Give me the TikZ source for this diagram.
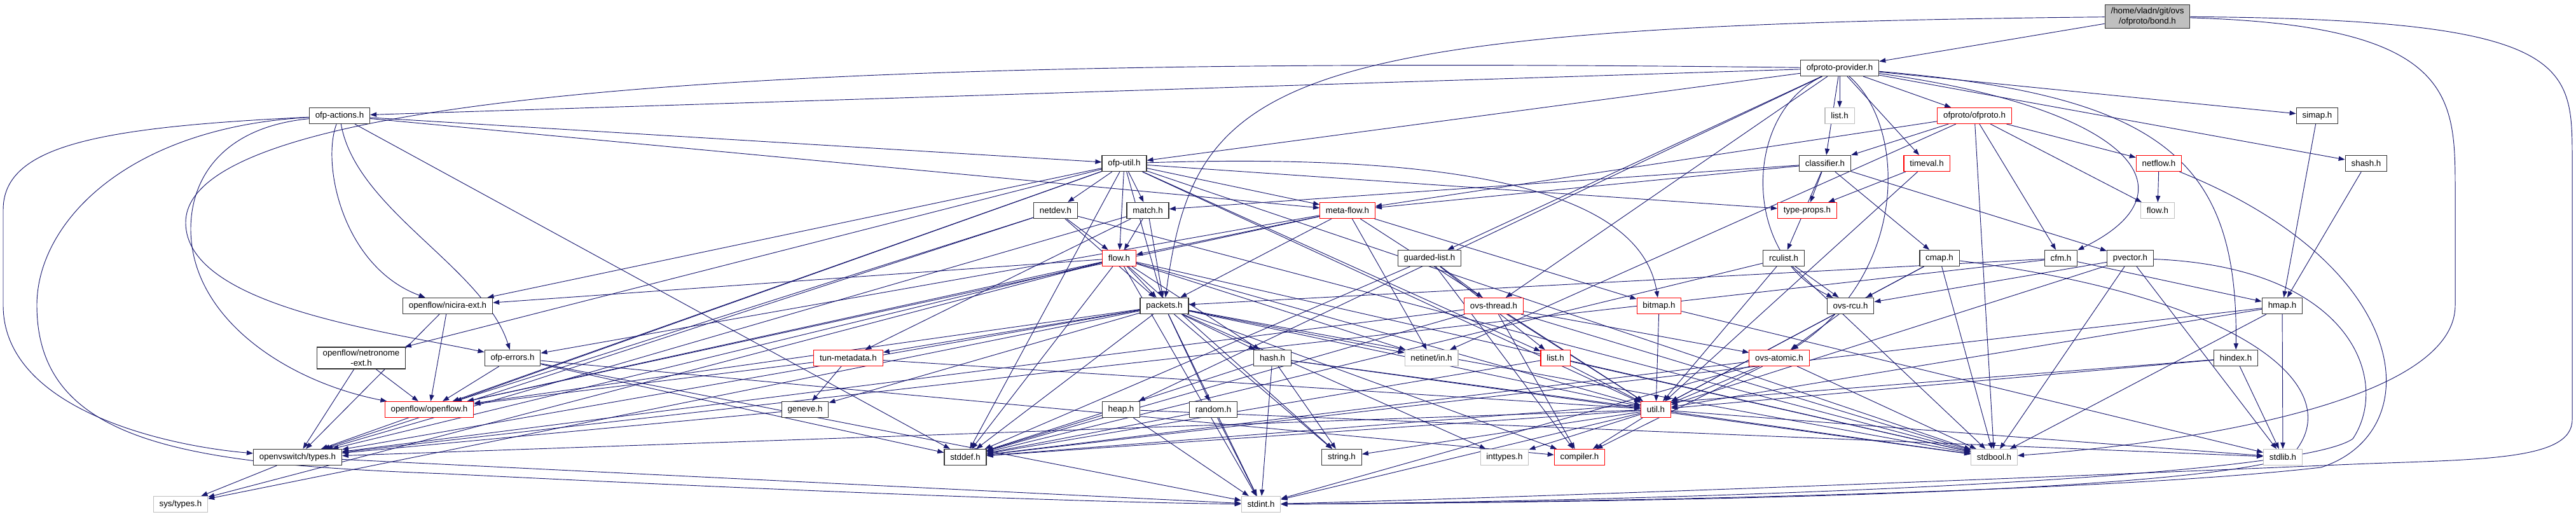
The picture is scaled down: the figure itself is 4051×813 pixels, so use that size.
\documentclass[tikz,border=0pt]{standalone}
\usepackage{fontspec}
\setmainfont{Liberation Sans}
\usetikzlibrary{arrows.meta,backgrounds}

\definecolor{edgeblue}{HTML}{191970}
\definecolor{rootfill}{HTML}{BFBFBF}
\definecolor{nodocline}{HTML}{BFBFBF}

\tikzset{
  hdr/.style={draw=black!80, line width=1pt, fill=white, font=\fontsize{10}{12}\selectfont,
    inner xsep=7pt, inner ysep=3pt, minimum height=18.75pt, align=center},
  trunc/.style={hdr, draw=red, line width=0.8pt},
  nodoc/.style={hdr, draw=nodocline, line width=0.8pt},
  root/.style={hdr, fill=rootfill},
  inc/.style={draw=edgeblue, line width=0.7pt, -{Triangle[length=7.5pt,width=5.5pt]}}
}

\begin{document}
\begin{tikzpicture}[x=0.75pt,y=-0.75pt]
\useasboundingbox (0,0) rectangle (4051,813);
% rows of headers
\node[root] (bond) at (3377,26) {/home/vladn/git/ovs\\/ofproto/bond.h};
\node[hdr] (provider) at (2893,107) {ofproto-provider.h};
\node[hdr] (ofpactions) at (534,182) {ofp-actions.h};
\node[nodoc] (listg) at (2893,182) {list.h};
\node[trunc] (ofproto) at (3105,182) {ofproto/ofproto.h};
\node[hdr] (simap) at (3644,182) {simap.h};
\node[hdr] (ofputil) at (1768,257) {ofp-util.h};
\node[hdr] (classifier) at (2870,257) {classifier.h};
\node[trunc] (timeval) at (3030,257) {timeval.h};
\node[trunc] (netflow) at (3395,257) {netflow.h};
\node[hdr] (shash) at (3721,257) {shash.h};
\node[hdr] (netdev) at (1660,331) {netdev.h};
\node[hdr] (match) at (1805,331) {match.h};
\node[trunc] (metaflow) at (2119,331) {meta-flow.h};
\node[trunc] (typeprops) at (2842,331) {type-props.h};
\node[nodoc] (flowg) at (3393,331) {flow.h};
\node[trunc] (flow) at (1760,406) {flow.h};
\node[hdr] (guarded) at (2248,406) {guarded-list.h};
\node[hdr] (rculist) at (2805,406) {rculist.h};
\node[hdr] (cmap) at (3050,406) {cmap.h};
\node[hdr] (cfm) at (3241,406) {cfm.h};
\node[hdr] (pvector) at (3350,406) {pvector.h};
\node[hdr] (nicira) at (704,481) {openflow/nicira-ext.h};
\node[hdr] (packets) at (1831,481) {packets.h};
\node[trunc] (ovsthread) at (2349,481) {ovs-thread.h};
\node[trunc] (bitmap) at (2609,481) {bitmap.h};
\node[hdr] (ovsrcu) at (2910,481) {ovs-rcu.h};
\node[hdr] (hmap) at (3589,481) {hmap.h};
\node[hdr] (netronome) at (568,563) {openflow/netronome\\-ext.h};
\node[hdr] (ofperrors) at (806,563) {ofp-errors.h};
\node[trunc] (tunmeta) at (1334,563) {tun-metadata.h};
\node[hdr] (hash) at (2001,563) {hash.h};
\node[nodoc] (netinet) at (2251,563) {netinet/in.h};
\node[trunc] (listr) at (2446,563) {list.h};
\node[trunc] (ovsatomic) at (2798,563) {ovs-atomic.h};
\node[hdr] (hindex) at (3516,563) {hindex.h};
\node[trunc] (openflow) at (675,644) {openflow/openflow.h};
\node[hdr] (geneve) at (1266,644) {geneve.h};
\node[hdr] (heap) at (1763,644) {heap.h};
\node[hdr] (random) at (1908,644) {random.h};
\node[trunc] (util) at (2604,644) {util.h};
\node[hdr] (ovstypes) at (468,719) {openvswitch/types.h};
\node[hdr] (stddef) at (1518,719) {stddef.h};
\node[hdr] (stringh) at (2110,719) {string.h};
\node[nodoc] (inttypes) at (2366,719) {inttypes.h};
\node[trunc] (compiler) at (2484,719) {compiler.h};
\node[nodoc] (stdbool) at (3136,719) {stdbool.h};
\node[nodoc] (stdlib) at (3590,719) {stdlib.h};
\node[nodoc] (systypes) at (284,793) {sys/types.h};
\node[nodoc] (stdint) at (1983,793) {stdint.h};

\begin{scope}[on background layer]
% plain includes
\foreach \a/\b in {bond/provider,
  provider/ofpactions, provider/ofputil, provider/listg, provider/ofproto, provider/classifier,
  provider/timeval, provider/simap, provider/shash, provider/guarded, provider/ovsthread, provider/heap,
  ofpactions/ofputil, ofpactions/metaflow, ofpactions/stddef,
  ofproto/classifier, ofproto/netflow, ofproto/flowg, ofproto/cfm, ofproto/metaflow, ofproto/netinet, ofproto/stdbool,
  ofputil/netdev, ofputil/match, ofputil/flow, ofputil/metaflow, ofputil/typeprops, ofputil/nicira,
  ofputil/netronome, ofputil/openflow, ofputil/ovstypes, ofputil/packets, ofputil/listr, ofputil/util,
  ofputil/stdbool, ofputil/stddef,
  classifier/cmap, classifier/match, classifier/metaflow, classifier/pvector, classifier/rculist, classifier/typeprops,
  timeval/typeprops, timeval/util, netflow/flowg, simap/hmap, shash/hmap,
  netdev/flow, netdev/packets, netdev/ovstypes, netdev/openflow, netdev/stdbool,
  match/flow, match/packets, match/tunmeta, match/ovstypes,
  metaflow/flow, metaflow/packets, metaflow/bitmap, metaflow/netinet, metaflow/util, metaflow/ofperrors, metaflow/openflow,
  flow/packets, flow/util, flow/hash, flow/netinet, flow/ovstypes, flow/openflow, flow/nicira, flow/systypes,
  flow/stdbool, flow/stdint, flow/stddef, flow/stringh,
  guarded/ovsthread, guarded/listr, guarded/compiler, guarded/stddef,
  rculist/ovsrcu, rculist/util, rculist/stdbool, rculist/stddef,
  cmap/ovsrcu, cmap/util, cmap/stdbool,
  cfm/hmap, cfm/packets, cfm/ovstypes,
  pvector/ovsrcu, pvector/util, pvector/stdbool, pvector/stdlib,
  packets/util, packets/hash, packets/random, packets/stringh, packets/stdint, packets/stddef, packets/inttypes,
  packets/compiler, packets/netinet, packets/ovstypes, packets/openflow, packets/geneve, packets/tunmeta,
  packets/systypes, packets/stdbool,
  ovsthread/ovsatomic, ovsthread/util, ovsthread/compiler, ovsthread/stdbool, ovsthread/stddef, ovsthread/ovstypes,
  bitmap/util, bitmap/stdlib, ovsrcu/ovsatomic, ovsrcu/util,
  hmap/util, hmap/stdbool, hmap/stdlib, hmap/stddef,
  ofperrors/openflow, ofperrors/stdint, ofperrors/compiler, ofperrors/stddef,
  netronome/openflow, netronome/ovstypes, nicira/openflow, nicira/ovstypes,
  tunmeta/geneve, tunmeta/openflow, tunmeta/util,
  listr/util, listr/stdbool, listr/stddef,
  hash/util, hash/stringh, hash/stdint, hash/stdbool, hash/stddef,
  ovsatomic/util, ovsatomic/compiler, ovsatomic/stdbool, ovsatomic/stddef, ovsatomic/stdint,
  hindex/util, hindex/stdlib, hindex/stddef, geneve/ovstypes,
  heap/stddef, heap/stdint, heap/stdlib, random/stddef, random/stdint,
  util/stdint, util/stddef, util/stringh, util/inttypes, util/compiler, util/stdbool, util/stdlib, util/ovstypes,
  ovstypes/systypes, ovstypes/stdint}
  \draw[inc] (\a) -- (\b);

% routed includes
\draw[inc] (bond) .. controls (2000,40) and (1880,120) .. (packets);
\draw[inc] (bond) .. controls (3861,40) and (3861,150) .. (3861,300) -- (3861,480)
  .. controls (3861,640) and (3400,700) .. (stdbool);
\draw[inc] (bond) .. controls (4045,30) and (4045,100) .. (4045,250) -- (4045,660)
  .. controls (4045,725) and (3900,722) .. (3700,730) .. controls (3000,760) and (2300,785) .. (stdint);
\draw[inc] (provider) .. controls (3400,150) and (3520,250) .. (hindex);
\draw[inc] (provider) .. controls (3350,170) and (3460,300) .. (cfm);
\draw[inc] (provider) .. controls (2740,180) and (2740,400) .. (ovsrcu);
\draw[inc] (provider) .. controls (3000,200) and (3000,430) .. (ovsatomic);
\draw[inc] (provider) .. controls (1500,90) and (292,120) .. (292,350)
  .. controls (292,480) and (600,520) .. (ofperrors);
\draw[inc] (ofpactions) .. controls (150,200) and (5,230) .. (5,330) -- (5,480)
  .. controls (5,640) and (250,700) .. (ovstypes);
\draw[inc] (ofpactions) .. controls (200,200) and (58,350) .. (58,480)
  .. controls (58,700) and (300,730) .. (700,745) .. controls (1200,770) and (1700,790) .. (stdint);
\draw[inc] (ofpactions) .. controls (350,200) and (300,280) .. (300,360)
  .. controls (300,500) and (450,600) .. (openflow);
\draw[inc] (ofpactions) .. controls (505,260) and (540,420) .. (nicira);
\draw[inc] (ofpactions) .. controls (560,330) and (760,420) .. (ofperrors);
\draw[inc] (ofputil) .. controls (2300,240) and (2580,300) .. (bitmap);
\draw[inc] (pvector) .. controls (3700,420) and (3760,600) .. (3700,690)
  .. controls (3600,760) and (2500,790) .. (stdint);
\draw[inc] (netflow) .. controls (3800,420) and (3820,680) .. (3650,735)
  .. controls (3300,775) and (2500,790) .. (stdint);
\draw[inc] (cmap) .. controls (3550,470) and (3700,620) .. (3600,720)
  .. controls (3400,780) and (2500,790) .. (stdint);
\end{scope}
\end{tikzpicture}
\end{document}
